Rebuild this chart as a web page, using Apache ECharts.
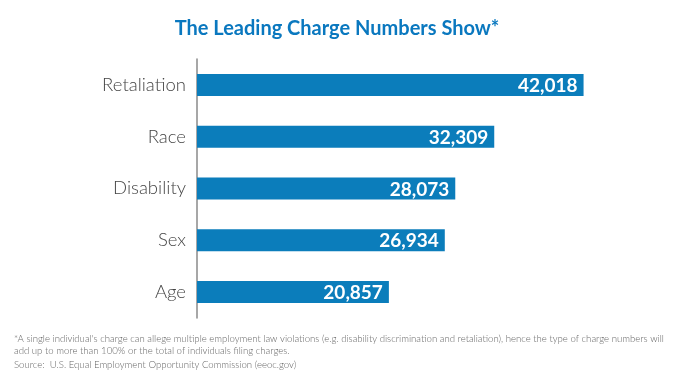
<!DOCTYPE html>
<html><head><meta charset="utf-8">
<script src="https://cdn.jsdelivr.net/npm/echarts@6/dist/echarts.min.js"></script>
<style>html,body{margin:0;padding:0;background:#fff}#c{width:674px;height:388px}</style>
</head><body><div id="c"></div>
<script>
const categories = ["Retaliation", "Race", "Disability", "Sex", "Age"];
const values = [42018, 32309, 28073, 26934, 20857];
const titleText = "The Leading Charge Numbers Show*";
const footnote1 = "*A single individual's charge can allege multiple employment law violations (e.g. disability discrimination and retaliation), hence the type of charge numbers will";
const footnote2 = "add up to more than 100% or the total of individuals filing charges.";
const sourceText = "Source:  U.S. Equal Employment Opportunity Commission (eeoc.gov)";

const chart = echarts.init(document.getElementById('c'), null, {renderer: 'canvas'});
chart.setOption({
  backgroundColor: '#fff',
  animation: false,
  title: {
    text: titleText, left: 'center', top: 14,
    textStyle: {fontFamily: 'Lato', fontWeight: 'bold', fontSize: 20, color: '#0a78bf'}
  },
  grid: {left: 197, right: 17, top: 59, bottom: 70, containLabel: false},
  xAxis: {type: 'value', min: 0, max: 50000, show: false},
  yAxis: {
    type: 'category', data: categories, inverse: true,
    axisLine: {show: true, lineStyle: {color: '#8a8a8a', width: 1.5}},
    axisTick: {show: false}, splitLine: {show: false},
    axisLabel: {fontFamily: 'Lato', fontWeight: 300, fontSize: 18.5, color: '#444', margin: 11}
  },
  series: [{
    type: 'bar', data: values, barWidth: 22,
    itemStyle: {color: '#0b7dbb'},
    label: {
      show: true, position: 'insideRight', offset: [-1, 1],
      fontFamily: 'Lato', fontWeight: 'bold', fontSize: 19, color: '#fff',
      formatter: p => p.value.toLocaleString('en-US')
    }
  }],
  graphic: [
    {type: 'text', left: 14, top: 334, style: {text: footnote1, font: '300 9.6px Lato', fill: '#666'}},
    {type: 'text', left: 14, top: 346, style: {text: footnote2, font: '300 9.6px Lato', fill: '#666'}},
    {type: 'text', left: 14, top: 360, style: {text: sourceText, font: '300 9.6px Lato', fill: '#666'}}
  ]
});
</script></body></html>
